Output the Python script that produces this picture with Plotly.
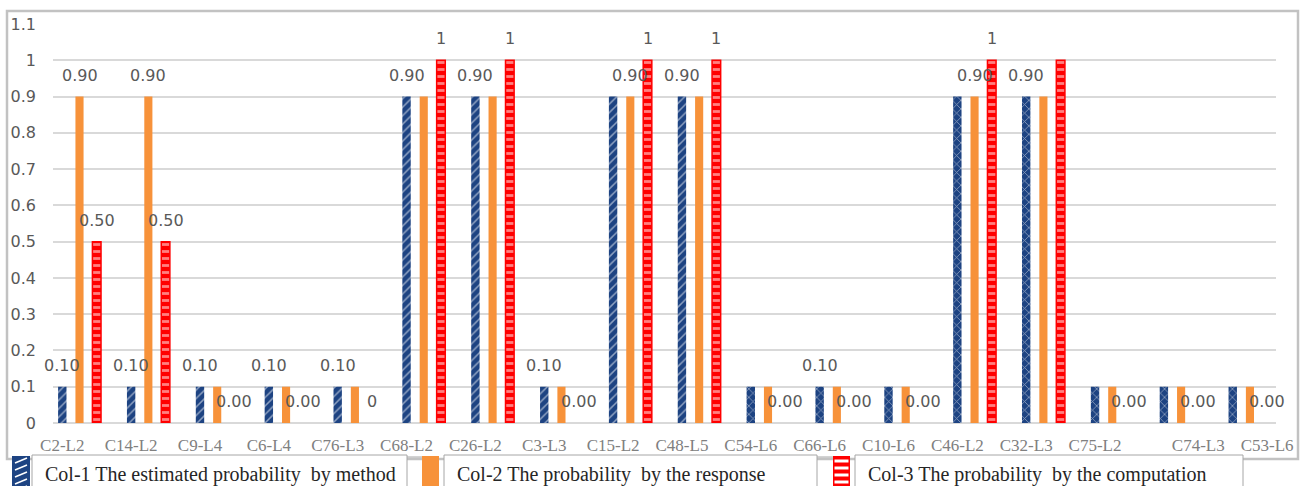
import plotly.graph_objects as go

# ---- data -------------------------------------------------------------
categories = ["C2-L2", "C14-L2", "C9-L4", "C6-L4", "C76-L3", "C68-L2", "C26-L2",
              "C3-L3", "C15-L2", "C48-L5", "C54-L6", "C66-L6", "C10-L6", "C46-L2",
              "C32-L3", "C75-L2", "C74-L3", "C53-L6"]

col1_method = [0.1, 0.1, 0.1, 0.1, 0.1, 0.9, 0.9, 0.1, 0.9, 0.9,
               0.1, 0.1, 0.1, 0.9, 0.9, 0.1, 0.1, 0.1]
col2_response = [0.9, 0.9, 0.1, 0.1, 0.1, 0.9, 0.9, 0.1, 0.9, 0.9,
                 0.1, 0.1, 0.1, 0.9, 0.9, 0.1, 0.1, 0.1]
col3_computation = [0.5, 0.5, 0.0, 0.0, 0.0, 1.0, 1.0, 0.0, 1.0, 1.0,
                    0.0, 0.0, 0.0, 1.0, 1.0, 0.0, 0.0, 0.0]

# value labels shown on the chart (None = no label for that bar)
col1_labels = ["0.10", "0.10", "0.10", "0.10", "0.10", "0.90", "0.90", "0.10", None, "0.90",
               None, "0.10", None, None, "0.90", None, None, None]
col2_labels = ["0.90", "0.90", None, None, None, None, None, None, "0.90", None,
               None, None, None, "0.90", None, None, None, None]
col3_labels = ["0.50", "0.50", "0.00", "0.00", "0", "1", "1", "0.00", "1", "1",
               "0.00", "0.00", "0.00", "1", None, "0.00", "0.00", "0.00"]

series_names = ["Col-1 The estimated probability\u00a0 by method",
                "Col-2 The probability\u00a0 by the response",
                "Col-3 The probability\u00a0 by the computation"]

y_ticks = [0, 0.1, 0.2, 0.3, 0.4, 0.5, 0.6, 0.7, 0.8, 0.9, 1.0, 1.1]

# ---- styling ----------------------------------------------------------
W, H = 1307, 486
PL, PR, PT, PB = 53, 1276, 24, 423          # plot-area edges in pixels
NAVY, ORANGE, RED = "#1d4382", "#f7923a", "#ff0000"
GRAY_TXT = "#595959"
SLOT = 0.25                                # spacing between bars in a group

idx = list(range(len(categories)))


def px_x(p):
    return (p - PL) / (PR - PL)


def px_y(p):
    return (PB - p) / (PB - PT)


blue_shapes = ["/"] * 10 + ["x"] * 8

fig = go.Figure()
fig.add_trace(go.Bar(
    x=idx, y=col1_method, name=series_names[0], showlegend=False,
    width=0.122, offset=-SLOT - 0.061,
    marker=dict(color=NAVY, line=dict(width=0),
                pattern=dict(shape=blue_shapes, fgcolor="white", fillmode="overlay",
                             size=6, solidity=0.25)),
))
fig.add_trace(go.Bar(
    x=idx, y=col2_response, name=series_names[1], showlegend=False,
    width=0.118, offset=-0.059,
    marker=dict(color=ORANGE, line=dict(width=0)),
))
fig.add_trace(go.Bar(
    x=idx, y=col3_computation, name=series_names[2], showlegend=False,
    width=0.125, offset=SLOT - 0.0625,
    marker=dict(color=RED,
                line=dict(color=RED, width=[1.5 if v > 0 else 0 for v in col3_computation]),
                pattern=dict(shape="-", fgcolor="white", fillmode="overlay",
                             size=7, solidity=0.4)),
))

# value labels above the bars
annotations = []
for values, labels, dx in ((col1_method, col1_labels, -SLOT),
                           (col2_response, col2_labels, 0.0),
                           (col3_computation, col3_labels, SLOT)):
    for i, (v, t) in enumerate(zip(values, labels)):
        if t is None:
            continue
        annotations.append(dict(
            x=i + dx, y=v, xref="x", yref="y", text=t, showarrow=False,
            yshift=21.5, yanchor="middle", xanchor="center",
            font=dict(family="DejaVu Sans", size=16, color=GRAY_TXT),
        ))

# category tick positions (last two labels sit further right)
tick_pos = [i - SLOT for i in idx]
tick_pos[-2] = idx[-2] + SLOT
tick_pos[-1] = idx[-1] + SLOT

shapes = [
    # outer chart frame
    dict(type="rect", xref="paper", yref="paper", layer="below",
         x0=px_x(7), x1=px_x(1298), y0=px_y(459), y1=px_y(11),
         line=dict(color="#c2c2c2", width=2.5), fillcolor="white"),
]

# ---- legend row: key swatch + boxed caption for each series -----------
legend_cells = [(12, 30, 32, 407, 43), (422, 439, 444, 817, 455), (833, 850, 855, 1243, 866)]
for a, b in ((407, 422), (817, 833)):
    shapes.append(dict(type="line", xref="paper", yref="paper", layer="above",
                       x0=px_x(a), x1=px_x(b), y0=px_y(457), y1=px_y(457),
                       line=dict(color="#a6a6a6", width=1)))
for k, (s0, s1, b0, b1, tx) in enumerate(legend_cells):
    shapes.append(dict(type="rect", xref="paper", yref="paper", layer="above",
                       x0=px_x(b0), x1=px_x(b1), y0=px_y(492), y1=px_y(455),
                       line=dict(color="#a6a6a6", width=1), fillcolor="white"))
    colour = (NAVY, ORANGE, RED)[k]
    shapes.append(dict(type="rect", xref="paper", yref="paper", layer="above",
                       x0=px_x(s0), x1=px_x(s1), y0=px_y(492), y1=px_y(456),
                       line=dict(width=0), fillcolor=colour))
    if k == 0:
        # white diagonal strokes on the navy key
        for yy in range(458, 490, 7):
            shapes.append(dict(type="line", xref="paper", yref="paper", layer="above",
                               x0=px_x(s0 + 3), x1=px_x(s1 - 3),
                               y0=px_y(yy + 5), y1=px_y(yy),
                               line=dict(color="white", width=1.5)))
    elif k == 2:
        # white horizontal stripes on the red key
        for yy in range(461, 490, 7):
            shapes.append(dict(type="line", xref="paper", yref="paper", layer="above",
                               x0=px_x(s0 + 1.5), x1=px_x(s1 - 1.5),
                               y0=px_y(yy), y1=px_y(yy),
                               line=dict(color="white", width=3)))
    annotations.append(dict(
        x=px_x(tx), y=px_y(474), xref="paper", yref="paper",
        text=series_names[k], showarrow=False, xanchor="left", yanchor="middle",
        font=dict(family="Liberation Serif", size=20, color="#262626"),
    ))

fig.update_layout(
    width=W, height=H,
    margin=dict(l=PL, r=W - PR, t=PT, b=H - PB),
    paper_bgcolor="white", plot_bgcolor="white",
    barmode="overlay",
    showlegend=False,
    xaxis=dict(range=[(PL - 79.5) / 68.85, (PR - 79.5) / 68.85],
               tickmode="array", tickvals=tick_pos, ticktext=categories,
               showgrid=False, zeroline=False, showline=False, ticks="",
               ticklabelstandoff=10,
               tickfont=dict(family="Liberation Serif", size=17, color="#808080")),
    yaxis=dict(range=[0, 1.1], tickmode="array", tickvals=y_ticks,
               ticktext=[f"{v:g}" for v in y_ticks],
               showgrid=True, gridcolor="#d9d9d9", gridwidth=1.5,
               zeroline=True, zerolinecolor="#d9d9d9", zerolinewidth=1.5,
               showline=False, ticks="", ticklabelstandoff=16,
               tickfont=dict(family="DejaVu Sans", size=16, color=GRAY_TXT)),
    annotations=annotations,
    shapes=shapes,
)

fig.write_html("out.html")
